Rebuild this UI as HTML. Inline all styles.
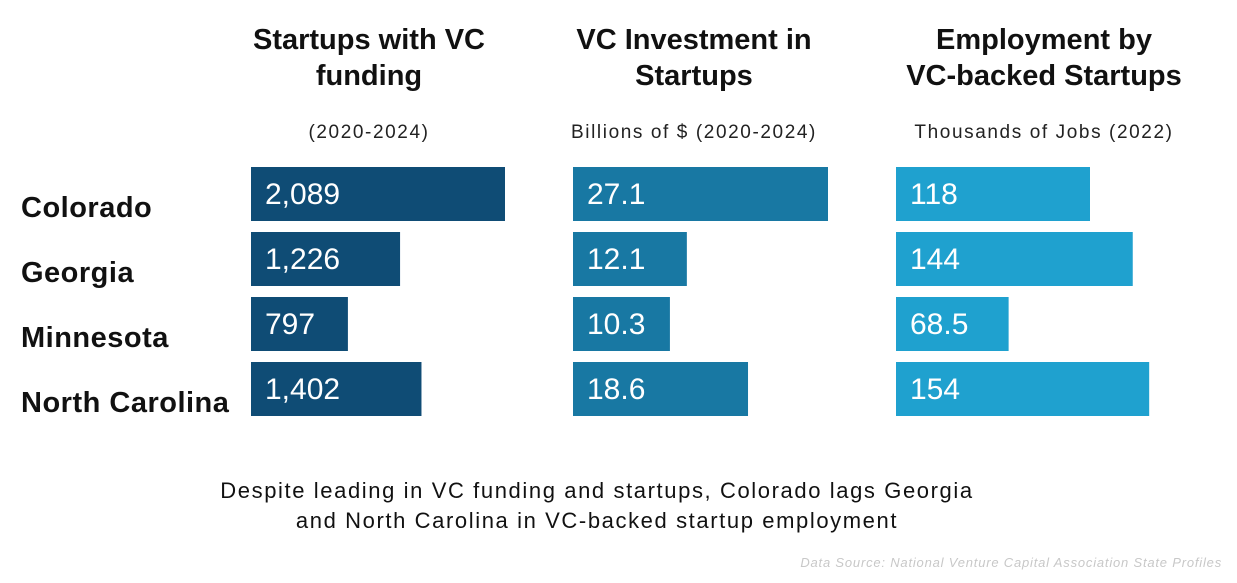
<!DOCTYPE html>
<html><head><meta charset="utf-8"><style>
body{margin:0;background:#fff;width:1237px;height:578px;overflow:hidden;font-family:"Liberation Sans",sans-serif}
svg text{font-family:"Liberation Sans",sans-serif}
</style></head><body>
<svg width="1237" height="578">
<g id="g"></g>
</svg>
<script>
const states=["Colorado","Georgia","Minnesota","North Carolina"];
const startups=[2089,1226,797,1402];
const startupLabels=["2,089","1,226","797","1,402"];
const invest=[27.1,12.1,10.3,18.6];
const investLabels=["27.1","12.1","10.3","18.6"];
const jobs=[118,144,68.5,154];
const jobsLabels=["118","144","68.5","154"];
const titles=[["Startups with VC","funding"],["VC Investment in","Startups"],["Employment by","VC-backed Startups"]];
const subtitles=["(2020-2024)","Billions of $ (2020-2024)","Thousands of Jobs (2022)"];

const NS="http://www.w3.org/2000/svg",g=document.getElementById('g');
function mk(t,a,txt){const e=document.createElementNS(NS,t);for(const k in a)e.setAttribute(k,a[k]);if(txt!==undefined)e.textContent=txt;g.appendChild(e);return e;}
const panels=[
 {vals:startups,labs:startupLabels,x0:251,scale:254/2089,color:"#0f4c75",cx:369,name:"startups"},
 {vals:invest,labs:investLabels,x0:573,scale:255/27.1,color:"#1878a3",cx:694,name:"investment"},
 {vals:jobs,labs:jobsLabels,x0:896,scale:194/118,color:"#1fa1cf",cx:1044,name:"employment"}];
const rowY=i=>167+i*65, barH=54;
panels.forEach((p,pi)=>{
 titles[pi].forEach((l,li)=>{
  const t=mk('text',{x:p.cx,y:49+li*36,'text-anchor':'middle','font-size':29,'font-weight':'bold',fill:'#111'},l);
  
  
 });
 const s=mk('text',{x:p.cx,y:138,'text-anchor':'middle','font-size':19,'letter-spacing':1.6,fill:'#222'},subtitles[pi]);
 
 
 p.vals.forEach((v,i)=>{
  const r=mk('rect',{x:p.x0,y:rowY(i),width:v*p.scale,height:barH,fill:p.color});
  
  
  const t=mk('text',{x:p.x0+14,y:rowY(i)+37,'font-size':30,fill:'#fff'},p.labs[i]);
  
  
 });
});
states.forEach((s,i)=>{
 const t=mk('text',{x:21,y:rowY(i)+50,'font-size':29,'font-weight':'bold',fill:'#111','letter-spacing':0.5},s);
 
 
});
[["Despite leading in VC funding and startups, Colorado lags Georgia",498],["and North Carolina in VC-backed startup employment",528]].forEach(([l,y])=>{
 const t=mk('text',{x:597,y:y,'text-anchor':'middle','font-size':22,'letter-spacing':1.6,fill:'#111'},l);
 
 
});
const src=mk('text',{x:1222,y:567,'text-anchor':'end','font-size':13,'letter-spacing':0.8,'font-style':'italic',fill:'#c8c8c8'},"Data Source: National Venture Capital Association State Profiles");


</script>
</body></html>
